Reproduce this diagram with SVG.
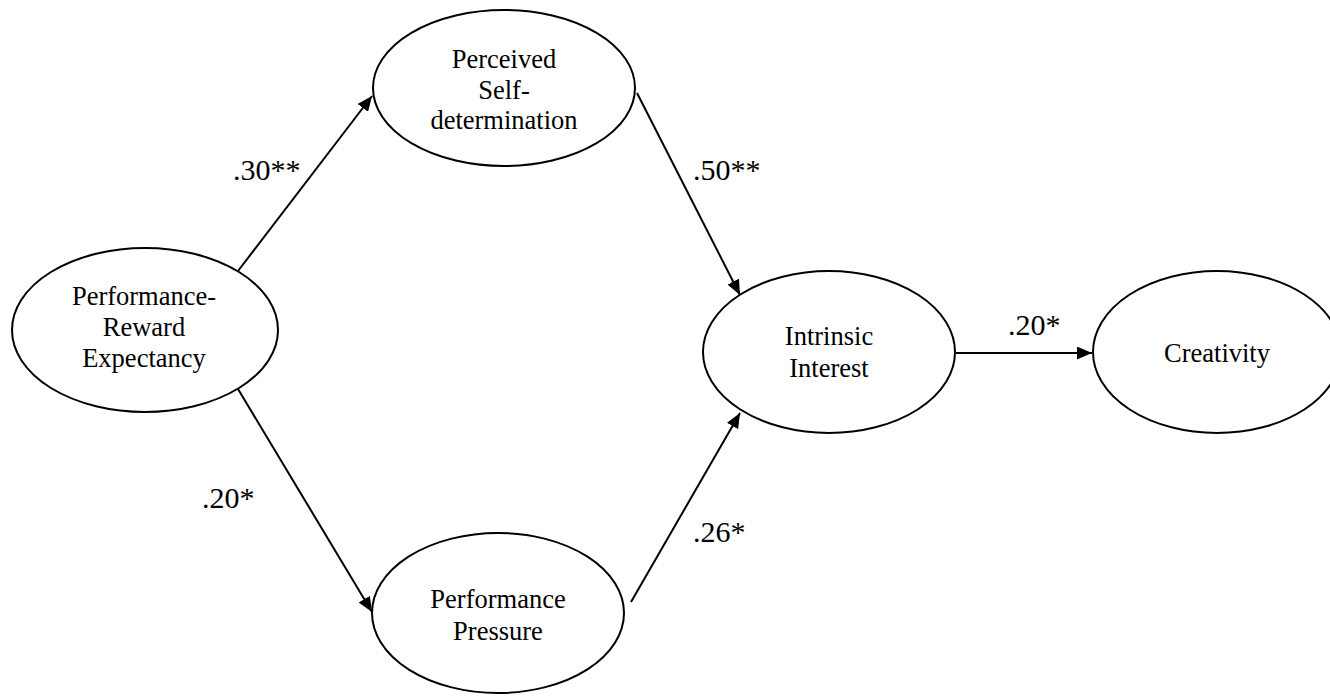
<svg xmlns="http://www.w3.org/2000/svg" width="1330" height="696" viewBox="0 0 1330 696">
<style>
.node{fill:#fff;stroke:#000;stroke-width:2}
.t{font-family:"Liberation Serif","Times New Roman",serif;font-size:26.5px;fill:#000;text-anchor:middle}
.lbl{font-family:"Liberation Serif","Times New Roman",serif;font-size:30px;fill:#000}
.edge{stroke:#000;stroke-width:2;fill:none;marker-end:url(#arr)}
</style>
<defs>
<marker id="arr" viewBox="0 0 15 13" refX="15" refY="6.5" markerWidth="15" markerHeight="13" markerUnits="userSpaceOnUse" orient="auto">
<path d="M0,0 L15,6.5 L0,13 z" fill="#000"/>
</marker>
</defs>
<rect width="1330" height="696" fill="#fff"/>
<g id="connectors">
<line class="edge" x1="238" y1="271" x2="372" y2="96"/>
<line class="edge" x1="238" y1="389" x2="372" y2="612"/>
<line class="edge" x1="637" y1="93" x2="740" y2="295"/>
<line class="edge" x1="631" y1="602" x2="740" y2="413"/>
<line class="edge" x1="956" y1="353" x2="1092" y2="353"/>
</g>
<g id="node-pre">
<ellipse class="node" cx="145" cy="330" rx="133" ry="82"/>
<text class="t" x="144" y="305">Performance-</text>
<text class="t" x="144" y="336">Reward</text>
<text class="t" x="144" y="367">Expectancy</text>
</g>
<g id="node-psd">
<ellipse class="node" cx="504" cy="88" rx="131" ry="78"/>
<text class="t" x="504" y="68">Perceived</text>
<text class="t" x="504" y="99">Self-</text>
<text class="t" x="504" y="129">determination</text>
</g>
<g id="node-pp">
<ellipse class="node" cx="498" cy="613" rx="126" ry="80"/>
<text class="t" x="498" y="608">Performance</text>
<text class="t" x="498" y="640">Pressure</text>
</g>
<g id="node-ii">
<ellipse class="node" cx="829" cy="352" rx="126" ry="81"/>
<text class="t" x="829" y="345">Intrinsic</text>
<text class="t" x="829" y="377">Interest</text>
</g>
<g id="node-cr">
<ellipse class="node" cx="1217" cy="352" rx="124" ry="81"/>
<text class="t" x="1217" y="362">Creativity</text>
</g>
<g id="labels">
<text class="lbl" x="233" y="180">.30**</text>
<text class="lbl" x="693" y="180">.50**</text>
<text class="lbl" x="202" y="508">.20*</text>
<text class="lbl" x="693" y="542">.26*</text>
<text class="lbl" x="1008" y="335">.20*</text>
</g>
</svg>
